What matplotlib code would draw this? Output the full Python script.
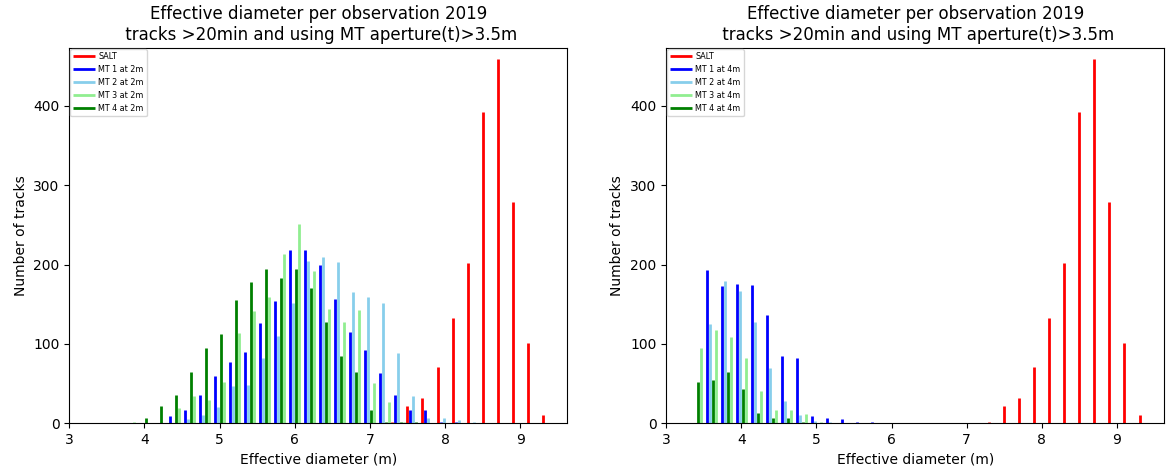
import numpy as np
import matplotlib
matplotlib.use("Agg")
import matplotlib.pyplot as plt

# bin centres (m), shared by every series
centers = [3.1, 3.3, 3.5, 3.7, 3.9, 4.1, 4.3, 4.5, 4.7, 4.9,
           5.1, 5.3, 5.5, 5.7, 5.9, 6.1, 6.3, 6.5, 6.7, 6.9,
           7.1, 7.3, 7.5, 7.7, 7.9, 8.1, 8.3, 8.5, 8.7, 8.9,
           9.1, 9.3]

salt = [0, 0, 0, 0, 0, 0, 0, 0, 0, 0,
        0, 0, 0, 0, 0, 0, 0, 0, 0, 0,
        0, 2, 21, 32, 71, 133, 202, 393, 459, 279,
        101, 10]

# MT telescopes, aperture 2m
mt1_2m = [0, 0, 0, 0, 0, 0, 9, 16, 36, 60,
          77, 90, 126, 154, 218, 218, 200, 157, 115, 92,
          63, 36, 16, 16, 2, 1, 0, 0, 0, 0,
          0, 0]
mt2_2m = [0, 0, 0, 0, 0, 0, 0, 5, 10, 20,
          47, 48, 82, 110, 152, 204, 209, 203, 165, 159,
          151, 89, 34, 6, 6, 4, 1, 0, 0, 0,
          0, 0]
mt3_2m = [0, 0, 0, 0, 1, 0, 0, 19, 34, 29,
          52, 114, 142, 159, 213, 251, 192, 144, 128, 143,
          51, 27, 2, 0, 0, 0, 0, 0, 0, 0,
          0, 0]
mt4_2m = [0, 0, 0, 0, 0, 6, 21, 35, 65, 95,
          112, 155, 178, 195, 183, 194, 170, 127, 85, 64,
          16, 2, 1, 1, 0, 0, 0, 0, 0, 0,
          0, 0]

# MT telescopes, aperture 4m
mt1_4m = [0, 0, 193, 173, 176, 174, 136, 85, 82, 9,
          7, 5, 1, 1, 0, 0, 0, 0, 0, 0,
          0, 0, 0, 0, 0, 0, 0, 0, 0, 0,
          0, 0]
mt2_4m = [0, 0, 125, 179, 167, 128, 70, 28, 10, 3,
          1, 0, 0, 0, 0, 0, 0, 0, 0, 0,
          0, 0, 0, 0, 0, 0, 0, 0, 0, 0,
          0, 0]
mt3_4m = [0, 0, 95, 118, 108, 82, 40, 16, 17, 12,
          1, 0, 0, 0, 0, 0, 0, 0, 0, 0,
          0, 0, 0, 0, 0, 0, 0, 0, 0, 0,
          0, 0]
mt4_4m = [0, 0, 52, 54, 65, 43, 13, 7, 6, 2,
          0, 0, 0, 0, 0, 0, 0, 0, 0, 0,
          0, 0, 0, 0, 0, 0, 0, 0, 0, 0,
          0, 0]

title = "Effective diameter per observation 2019\n tracks >20min and using MT aperture(t)>3.5m"


def draw_panel(ax, series, ap):
    x = np.array(centers)
    # (counts, label, colour, offset from bin centre)
    styles = [
        (salt, "SALT", "red", 0.0),
        (series[0], "MT 1 at %s" % ap, "blue", 0.04),
        (series[1], "MT 2 at %s" % ap, "skyblue", 0.08),
        (series[2], "MT 3 at %s" % ap, "lightgreen", -0.04),
        (series[3], "MT 4 at %s" % ap, "green", -0.08),
    ]
    for counts, label, col, off in styles:
        c = np.array(counts)
        m = c > 0
        ax.vlines(x[m] + off, 0, c[m], colors=col, lw=2, label=label)
    ax.set_xlim(3, 9.63)
    ax.set_ylim(0, 473)
    ax.set_title(title, fontsize=12)
    ax.set_xlabel("Effective diameter (m)")
    ax.set_ylabel("Number of tracks")
    ax.legend(loc="upper left", fontsize="xx-small", borderaxespad=0.1,
              handlelength=2.7, handletextpad=0.4)


fig, (ax1, ax2) = plt.subplots(1, 2, figsize=(11.67, 4.67), dpi=100)
fig.subplots_adjust(left=0.0594, right=0.9977, bottom=0.094, top=0.897, wspace=0.198)

draw_panel(ax1, [mt1_2m, mt2_2m, mt3_2m, mt4_2m], "2m")
draw_panel(ax2, [mt1_4m, mt2_4m, mt3_4m, mt4_4m], "4m")

fig.savefig("out.png", dpi=100)
